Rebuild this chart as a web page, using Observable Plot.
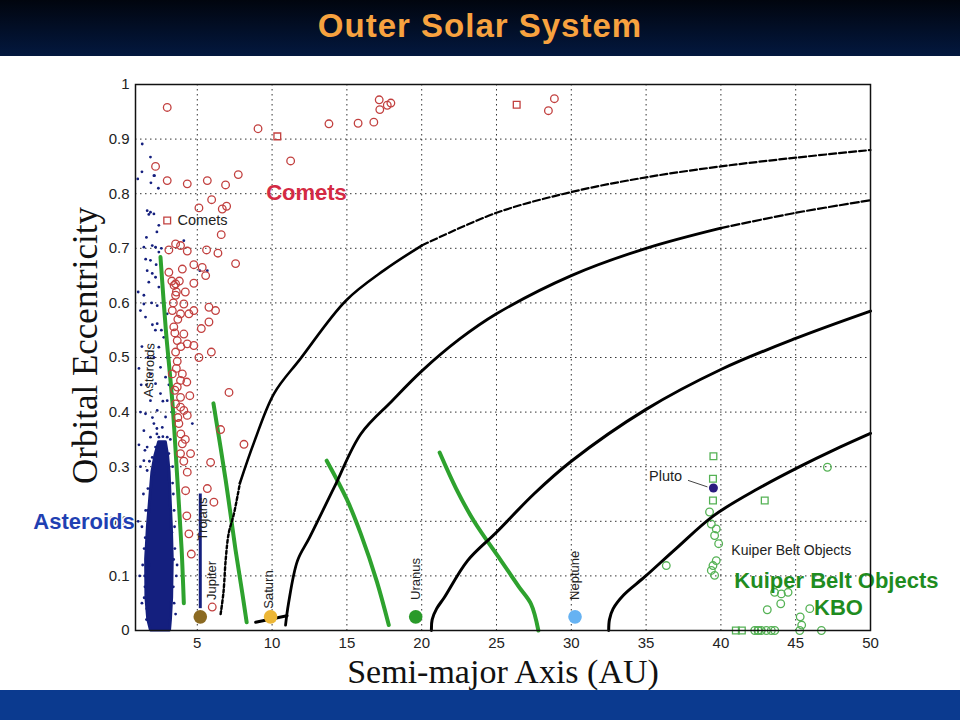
<!DOCTYPE html>
<html><head><meta charset="utf-8">
<script src="https://cdn.jsdelivr.net/npm/d3@7"></script>
<script src="https://cdn.jsdelivr.net/npm/@observablehq/plot@0.6"></script>
<style>
body{margin:0;width:960px;height:720px;overflow:hidden;background:#fff;font-family:"Liberation Sans",Arial,sans-serif;}
#title{height:56px;background:linear-gradient(#01050e,#03183f);color:#f7a23f;font-weight:bold;font-size:33px;text-align:center;line-height:52px;letter-spacing:1px;}
#chart{height:634px;background:#fff;}
#foot{height:30px;background:#0b3a8f;}
</style></head><body>
<div id="title">Outer Solar System</div>
<div id="chart"></div>
<div id="foot"></div>
<script>
// ---- axis ticks ----
const xTicks = [5,10,15,20,25,30,35,40,45,50];
const yTicks = [0,0.1,0.2,0.3,0.4,0.5,0.6,0.7,0.8,0.9,1];

// ---- planets ----
const planetNames = ["Jupiter","Saturn","Uranus","Neptune","Pluto"];
const planetA = [5.2, 9.9, 19.6, 30.25, 39.5];
const planetE = [0.025, 0.025, 0.025, 0.025, 0.261];

// ---- asteroid main-belt dense core: eccentricity, inner a, outer a ----
const coreE  = [0.00, 0.02, 0.06, 0.13, 0.19, 0.24, 0.29, 0.32, 0.345];
const coreA1 = [1.90, 1.72, 1.60, 1.58, 1.70, 1.85, 2.00, 2.20, 2.45];
const coreA2 = [3.18, 3.24, 3.32, 3.36, 3.30, 3.22, 3.15, 3.05, 2.90];

// ---- scattered asteroids (a, e) ----
const asteroidA = [1.32,1.87,2.14,1.02,2.10,1.65,1.87,2.10,1.76,2.43,1.43,1.99,2.21,2.43,4.10,1.65,1.99,2.21,1.76,2.43,5.67,1.87,1.43,1.20,5.17,1.43,1.54,2.32,2.32,2.99,2.76,2.43,2.99,2.54,2.88,2.21,2.54,1.87,2.99,2.32,1.54,2.88,2.10,2.66,1.43,1.87,2.43,2.99,1.65,2.21,2.76,1.43,1.99,3.10,1.65,2.10,4.67,
  1.40,1.55,1.30,1.45,1.35,1.50,1.30,1.60,3.45,3.50,3.60,3.45,3.35,1.70,1.20,1.25,1.10,1.30,1.05,3.30,3.10,3.20,1.75,1.80,3.30,3.40,1.05,1.15,2.60,2.00,1.70,2.10,1.90,2.20,1.60,2.70,2.00,2.30,1.80,2.40,1.20,1.10,1.95,2.70,2.25,1.55,2.60,2.30,1.30,1.90,2.40,1.60,3.55,3.65,1.50,1.62,
  1.48,1.52,1.45,3.42,3.48,3.40,1.68,3.35,2.30,2.70];
const asteroidE = [0.891,0.867,0.833,0.827,0.833,0.769,0.766,0.763,0.762,0.742,0.702,0.705,0.702,0.693,0.714,0.659,0.654,0.647,0.638,0.629,0.659,0.678,0.598,0.586,0.659,0.614,0.574,0.595,0.562,0.580,0.537,0.519,0.500,0.482,0.464,0.452,0.434,0.421,0.421,0.403,0.397,0.391,0.379,0.372,0.366,0.354,0.354,0.354,0.336,0.336,0.336,0.311,0.317,0.324,0.293,0.287,0.379,
  0.25,0.22,0.19,0.15,0.12,0.08,0.05,0.02,0.22,0.15,0.10,0.05,0.27,0.26,0.30,0.45,0.34,0.52,0.62,0.40,0.45,0.35,0.20,0.12,0.18,0.08,0.20,0.10,0.55,0.56,0.50,0.50,0.47,0.55,0.45,0.42,0.39,0.37,0.31,0.31,0.40,0.48,0.60,0.60,0.67,0.68,0.70,0.73,0.84,0.82,0.81,0.72,0.03,0.12,0.33,0.04,
  0.10,0.17,0.06,0.13,0.19,0.25,0.22,0.30,0.36,0.355];

// ---- Jupiter Trojans strip ----
const trojanA = [5.2];
const trojanE1 = [0.04];
const trojanE2 = [0.25];

// ---- comets (open circles) ----
const cometA = [2.99,9.06,11.24,2.21,2.99,4.33,5.67,6.89,7.74,5.96,5.11,6.67,6.96,6.60,3.55,3.88,3.10,4.33,5.62,6.38,7.56,4.77,5.33,4.00,3.10,5.56,3.55,4.77,
  13.8,15.75,16.8,17.16,17.2,17.7,17.94,28.47,28.87,
  3.45,3.55,4.10,3.88,3.33,5.78,6.22,4.44,5.78,4.77,5.27,3.43,4.10,3.66,4.33,4.77,3.55,5.11,5.94,3.66,3.33,3.88,3.66,7.12,3.88,3.55,3.88,4.33,4.10,6.56,3.77,4.00,8.12,4.55,3.88,5.89,4.33,4.22,5.67,6.11,4.44,6.00,
  3.40,3.70,3.50,3.90,3.60,4.00,3.50,3.70,3.90,4.20,3.60,3.80,4.20,3.30,4.30,4.50,4.10,4.30,4.60];
const cometE = [0.958,0.919,0.860,0.850,0.824,0.818,0.824,0.816,0.835,0.789,0.774,0.772,0.777,0.725,0.708,0.705,0.697,0.695,0.697,0.691,0.672,0.670,0.665,0.662,0.656,0.650,0.635,0.636,
  0.928,0.929,0.931,0.972,0.954,0.962,0.966,0.952,0.974,
  0.632,0.614,0.598,0.580,0.586,0.592,0.586,0.580,0.565,0.586,0.553,0.556,0.543,0.531,0.525,0.522,0.510,0.500,0.510,0.493,0.470,0.458,0.446,0.436,0.427,0.415,0.409,0.394,0.403,0.368,0.379,0.342,0.341,0.324,0.324,0.308,0.290,0.256,0.260,0.235,0.177,0.043,
  0.600,0.570,0.545,0.520,0.480,0.470,0.440,0.390,0.360,0.350,0.620,0.640,0.620,0.640,0.455,0.430,0.310,0.210,0.140];
// comets drawn as open squares
const cometSqA = [10.35, 26.35];
const cometSqE = [0.905, 0.963];

// ---- Kuiper belt objects ----
const kboA = [47.12,39.24,39.36,39.69,39.58,39.85,36.35,39.69,39.47,39.36,39.58,43.59,44.04,44.49,44.0,43.1,45.94,45.4,42.26,42.48,42.7,43.04,43.37,43.6,45.27,46.72,45.3];
const kboE = [0.299,0.217,0.195,0.186,0.174,0.159,0.119,0.128,0.119,0.110,0.101,0.070,0.067,0.070,0.049,0.038,0.040,0.010,0,0,0,0,0,0,0,0,0.025];
const kboSqA = [39.5,39.47,39.47,42.93,41.0,41.4,42.5];
const kboSqE = [0.319,0.278,0.238,0.238,0,0,0];

// ---- black curves (perihelion at a planet's orbit) ----
const curveJupA = [6.56,6.75,6.90,7.10,7.45,7.85,8.80,10.13,11.9,14.93,17.5,20,25,30,35,40,45,50];
const curveJupE = [0.03,0.07,0.13,0.178,0.214,0.27,0.345,0.434,0.498,0.604,0.66,0.705,0.765,0.803,0.83,0.85,0.866,0.88];
const curveSatA = [10.9,11.1,11.7,12.5,14.15,15.93,18,20,22.5,25,30,35,40,45,50];
const curveSatE = [0.01,0.05,0.128,0.17,0.262,0.36,0.42,0.475,0.533,0.58,0.65,0.70,0.737,0.765,0.788];
const curveUraA = [20.65,20.7,21,21.5,23.07,25,27.5,30,35,40,45,50];
const curveUraE = [0,0.02,0.04,0.06,0.128,0.18,0.25,0.31,0.405,0.478,0.535,0.585];
const curveNepA = [32.5,32.55,32.8,33.5,34.9,37,39.5,42.5,45.4,47.5,50];
const curveNepE = [0,0.02,0.04,0.065,0.098,0.15,0.21,0.26,0.302,0.33,0.361];
const saturnBarA = [8.9, 11.0];
const saturnBarE = [0.015, 0.027];

// ---- green lines ----
const green1A = [2.54,2.90,3.33,3.66,3.95,4.10];
const green1E = [0.684,0.55,0.42,0.28,0.15,0.05];
const green2A = [6.08,6.90,7.56,8.00,8.30];
const green2E = [0.416,0.275,0.147,0.07,0.015];
const green3A = [13.65,15.0,15.93,17.0,17.8];
const green3E = [0.311,0.24,0.177,0.09,0.01];
const green4A = [21.2,22.3,23.5,25.3,26.5,27.3,27.8];
const green4E = [0.326,0.26,0.2,0.128,0.08,0.049,0.0];

// ---- helpers ----
const pts = (A, E) => A.map((a, i) => ({a, e: E[i]}));
const core = coreE.map((e, i) => ({e, a1: coreA1[i], a2: coreA2[i]}));
const planets = planetNames.map((n, i) => ({name: n, a: planetA[i], e: planetE[i]}));
const trojans = trojanA.map((a, i) => ({a, e1: trojanE1[i], e2: trojanE2[i]}));
const seg = (arr, lo, hi) => arr.filter(d => d.e >= lo && d.e <= hi);
const greens = [[green1A,green1E,1],[green2A,green2E,2],[green3A,green3E,3],[green4A,green4E,4]]
  .flatMap(([A,E,k]) => pts(A,E).map(d => ({...d, k})));
const cJ = pts(curveJupA, curveJupE), cS = pts(curveSatA, curveSatE),
      cU = pts(curveUraA, curveUraE), cN = pts(curveNepA, curveNepE);
const planetColor = {Jupiter: "#8b6a22", Saturn: "#ecb636", Uranus: "#2a9a2a", Neptune: "#66b2f2", Pluto: "#2b1b7e"};

const navy = "#141f7e", cometCol = "#c2403f", kboCol = "#55b255", green = "#2ea22e";
const sans = "Liberation Sans, Arial, sans-serif", serif = "Liberation Serif, Times New Roman, serif";

const chart = Plot.plot({
  width: 960, height: 634,
  marginLeft: 135, marginRight: 90, marginTop: 28, marginBottom: 60,
  x: {domain: [0.87, 50], label: null},
  y: {domain: [0, 1], label: null},
  style: {fontFamily: sans, fontSize: "15px", color: "#222", background: "white", overflow: "visible"},
  marks: [
    Plot.gridX({ticks: xTicks.slice(0, -1), stroke: "#111", strokeOpacity: 0.85, strokeDasharray: "1.5,3.5"}),
    Plot.gridY({ticks: yTicks.slice(1, -1), stroke: "#111", strokeOpacity: 0.85, strokeDasharray: "1.5,3.5"}),
    Plot.axisX({ticks: xTicks, tickSize: 0, tickPadding: 7, fontSize: 15, label: null}),
    Plot.axisY({ticks: yTicks, tickSize: 0, tickPadding: 6, fontSize: 15, tickFormat: d => String(d), label: null}),
    // asteroids
    Plot.areaX(core, {y: "e", x1: "a1", x2: "a2", fill: navy, stroke: navy, strokeWidth: 3, curve: "linear"}),
    Plot.dot(pts(asteroidA, asteroidE), {x: "a", y: "e", r: 1.4, fill: navy}),
    Plot.ruleX(trojans, {x: "a", y1: "e1", y2: "e2", stroke: navy, strokeWidth: 3}),
    // green lines
    Plot.line(greens, {x: "a", y: "e", z: "k", stroke: green, strokeWidth: 4, curve: "catmull-rom"}),
    // comets
    Plot.dot(pts(cometA, cometE), {x: "a", y: "e", r: 3.8, stroke: cometCol, strokeWidth: 1.3, fill: "none"}),
    Plot.dot(pts(cometSqA, cometSqE), {x: "a", y: "e", r: 3.8, symbol: "square", stroke: cometCol, strokeWidth: 1.3, fill: "none"}),
    // KBOs
    Plot.dot(pts(kboA, kboE), {x: "a", y: "e", r: 3.8, stroke: kboCol, strokeWidth: 1.3, fill: "none"}),
    Plot.dot(pts(kboSqA, kboSqE), {x: "a", y: "e", r: 3.8, symbol: "square", stroke: kboCol, strokeWidth: 1.3, fill: "none"}),
    // black curves
    Plot.line(seg(cJ, 0, 0.28), {x: "a", y: "e", stroke: "#000", strokeWidth: 2.4, strokeDasharray: "3,2.5", curve: "catmull-rom"}),
    Plot.line(seg(cJ, 0.26, 0.71), {x: "a", y: "e", stroke: "#000", strokeWidth: 2.6, curve: "catmull-rom"}),
    Plot.line(seg(cJ, 0.70, 1), {x: "a", y: "e", stroke: "#000", strokeWidth: 2.2, strokeDasharray: "7,3", curve: "catmull-rom"}),
    Plot.line(seg(cS, 0, 0.741), {x: "a", y: "e", stroke: "#000", strokeWidth: 2.8, curve: "catmull-rom"}),
    Plot.line(seg(cS, 0.737, 1), {x: "a", y: "e", stroke: "#000", strokeWidth: 2.2, strokeDasharray: "8,3", curve: "catmull-rom"}),
    Plot.line(cU, {x: "a", y: "e", stroke: "#000", strokeWidth: 3, curve: "catmull-rom"}),
    Plot.line(cN, {x: "a", y: "e", stroke: "#000", strokeWidth: 3, curve: "catmull-rom"}),
    Plot.line(pts(saturnBarA, saturnBarE), {x: "a", y: "e", stroke: "#000", strokeWidth: 3}),
    // planets
    ...planets.map(p => Plot.dot([p], {x: "a", y: "e", r: p.name === "Pluto" ? 4.5 : 6.8, fill: planetColor[p.name]})),
    Plot.text(planets.filter(d => d.name !== "Pluto"), {x: d => d.a + (d.name === "Jupiter" ? 0.75 : d.name === "Saturn" ? -0.1 : 0), y: d => d.name === "Saturn" ? 0.04 : 0.056,
      text: "name", rotate: -90, textAnchor: "start", fontSize: 13, fill: "#222"}),
    Plot.text(planets.filter(d => d.name === "Pluto"), {x: 35.2, y: 0.283, text: "name", textAnchor: "start", fontSize: 14.5, fill: "#222"}),
    Plot.link([0], {x1: 37.8, y1: 0.275, x2: 39.1, y2: 0.263, stroke: "#444", strokeWidth: 1}),
    // in-plot small labels
    Plot.text(["Trojans"], {x: 5.36, y: 0.165, text: d => d, rotate: -90, textAnchor: "start", fontSize: 13, fill: "#222"}),
    Plot.text(["Asteroids"], {x: 1.74, y: 0.427, text: d => d, rotate: -88, textAnchor: "start", fontSize: 13, fill: "#222"}),
    Plot.dot([0], {x: 2.99, y: 0.751, r: 3.8, symbol: "square", stroke: cometCol, strokeWidth: 1.3, fill: "none"}),
    Plot.text(["Comets"], {x: 3.68, y: 0.751, text: d => d, textAnchor: "start", fontSize: 14.5, fill: "#222"}),
    Plot.text(["Kuiper Belt Objects"], {x: 40.7, y: 0.147, text: d => d, textAnchor: "start", fontSize: 14, fill: "#222"}),
    // big coloured labels
    Plot.text(["Comets"], {x: 12.3, y: 0.802, text: d => d, fontSize: 22, fontWeight: "bold", fill: "#d42a44"}),
    Plot.text(["Asteroids"], {x: -5.96, y: 0.198, text: d => d, textAnchor: "start", fontSize: 22, fontWeight: "bold", fill: "#1f40b2", stroke: "white", strokeWidth: 3}),
    Plot.text(["Kuiper Belt Objects"], {x: 40.9, y: 0.09, text: d => d, textAnchor: "start", fontSize: 22, fontWeight: "bold", fill: "#1f8c1f"}),
    Plot.text(["KBO"], {x: 47.86, y: 0.042, text: d => d, fontSize: 22, fontWeight: "bold", fill: "#1f8c1f"}),
    // axis titles
    Plot.text(["Semi-major Axis (AU)"], {frameAnchor: "bottom", dy: 42, textAnchor: "middle", lineAnchor: "middle", text: d => d, fontSize: 34, fontFamily: serif, fill: "#111"}),
    Plot.text(["Orbital Eccentricity"], {frameAnchor: "left", dx: -50, dy: -12, rotate: -90, textAnchor: "middle", lineAnchor: "middle", text: d => d, fontSize: 35, fontFamily: serif, fill: "#111"}),
    Plot.frame({stroke: "#111", strokeWidth: 1.5})
  ]
});
document.getElementById("chart").appendChild(chart);
</script>
</body></html>
